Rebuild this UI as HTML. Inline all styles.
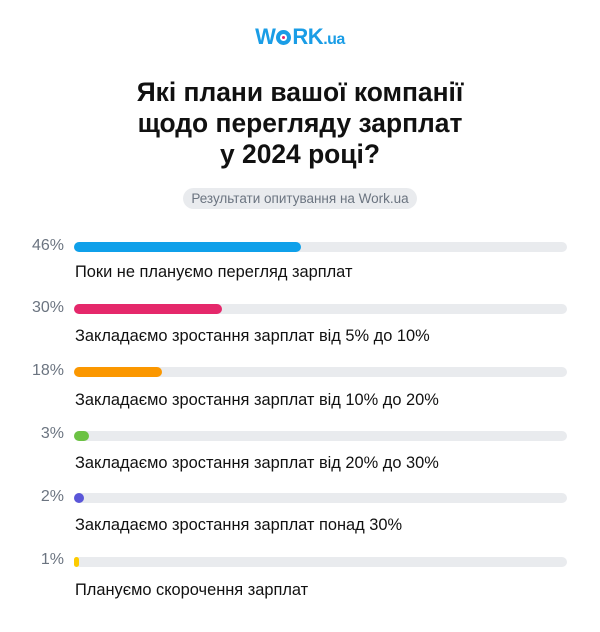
<!DOCTYPE html><html><head><meta charset="utf-8"><style>
body{margin:0;width:600px;height:632px;background:#fff;font-family:"Liberation Sans",sans-serif;position:relative;overflow:hidden}
.a{position:absolute}
.logo{left:0;width:600px;top:24px;text-align:center;font-weight:bold;font-size:22px;color:#1a9de6;letter-spacing:-0.5px}
.logo span{font-size:16px}
.title{left:0;width:600px;top:77px;text-align:center;font-weight:bold;font-size:26.4px;line-height:31px;color:#111}
.pill{left:183px;top:188px;width:234px;height:21px;border-radius:11px;background:#e9ebee;color:#6b7480;font-size:13.5px;text-align:center;line-height:21px}
.pct{width:44px;left:20px;text-align:right;font-size:16px;color:#6b7480}
.tr{left:74px;width:493px;height:10px;border-radius:5px;background:#e9ebee}
.f{position:absolute;left:0;top:0;height:10px;border-radius:5px}
.lb{left:75px;font-size:16.4px;color:#111}
</style></head><body>
<div class="a logo">W<span style="display:inline-block;width:15px;height:15px;border:4px solid #1a9de6;border-radius:50%;box-sizing:border-box;position:relative;vertical-align:-1px;margin:0 1px"><span style="position:absolute;left:2px;top:2px;width:3px;height:3px;background:#e5286b;border-radius:50%"></span></span>RK<span>.ua</span></div>
<div class="a title">Які плани вашої компанії<br>щодо перегляду зарплат<br>у 2024 році?</div>
<div class="a pill">Результати опитування на Work.ua</div>

<div class="a pct" style="top:237px">46%</div><div class="a tr" style="top:242px"><div class="f" style="width:227px;background:#0fa0ea"></div></div>
<div class="a lb" style="top:263px">Поки не плануємо перегляд зарплат</div>

<div class="a pct" style="top:299px">30%</div><div class="a tr" style="top:304px"><div class="f" style="width:148px;background:#e5286b"></div></div>
<div class="a lb" style="top:327px">Закладаємо зростання зарплат від 5% до 10%</div>

<div class="a pct" style="top:362px">18%</div><div class="a tr" style="top:367px"><div class="f" style="width:88px;background:#fb9700"></div></div>
<div class="a lb" style="top:391px">Закладаємо зростання зарплат від 10% до 20%</div>

<div class="a pct" style="top:425px">3%</div><div class="a tr" style="top:431px"><div class="f" style="width:15px;background:#6cc244"></div></div>
<div class="a lb" style="top:454px">Закладаємо зростання зарплат від 20% до 30%</div>

<div class="a pct" style="top:488px">2%</div><div class="a tr" style="top:493px"><div class="f" style="width:10px;background:#5a56d8"></div></div>
<div class="a lb" style="top:516px">Закладаємо зростання зарплат понад 30%</div>

<div class="a pct" style="top:551px">1%</div><div class="a tr" style="top:557px"><div class="f" style="width:5px;background:#fccb00"></div></div>
<div class="a lb" style="top:581px">Плануємо скорочення зарплат</div>
</body></html>
